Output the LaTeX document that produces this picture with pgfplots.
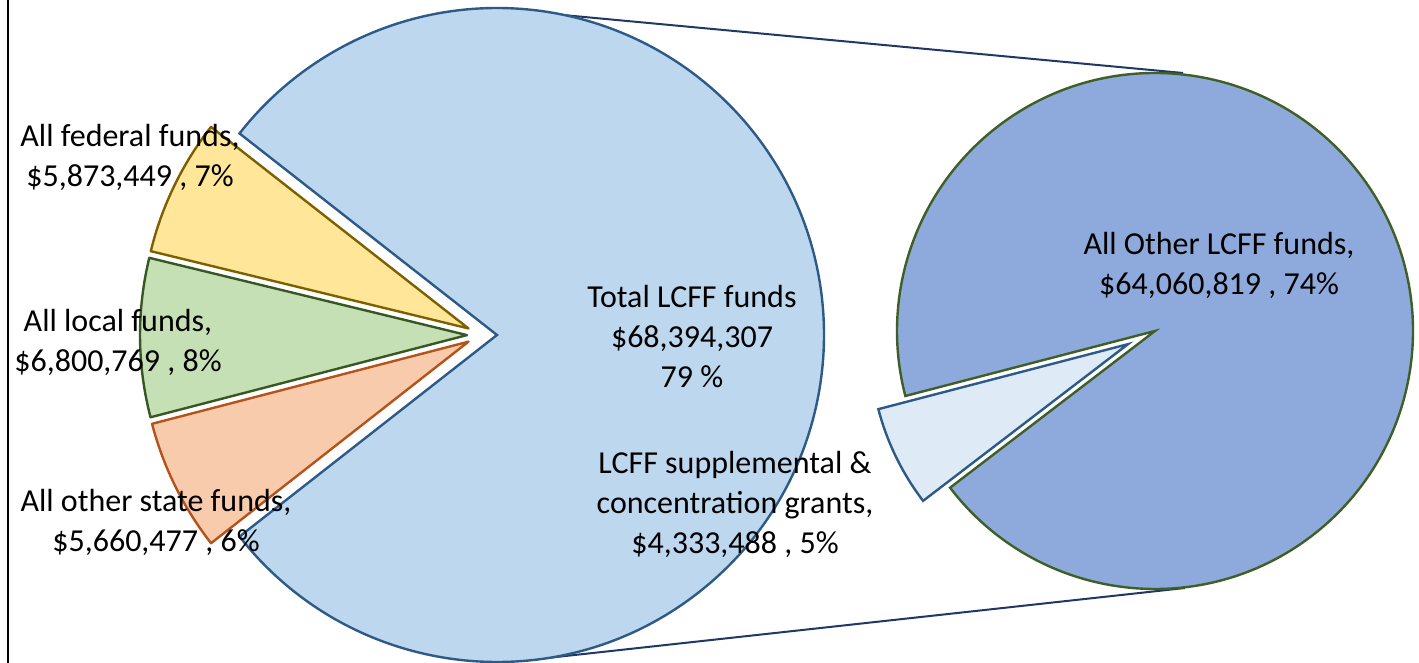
\documentclass[border=0pt]{standalone}
\usepackage{pgfplots}
\pgfplotsset{compat=1.18}
\usepackage{pgfplotstable}
\usepackage{fontspec}
\setmainfont{Carlito}

\definecolor{bigfill}{RGB}{189,215,238}
\definecolor{bigedge}{RGB}{46,90,136}
\definecolor{fedfill}{RGB}{255,230,153}
\definecolor{fededge}{RGB}{127,96,0}
\definecolor{locfill}{RGB}{197,224,180}
\definecolor{locedge}{RGB}{56,87,35}
\definecolor{stafill}{RGB}{248,203,173}
\definecolor{staedge}{RGB}{180,84,26}
\definecolor{secfill}{RGB}{142,169,219}
\definecolor{secedge}{RGB}{63,95,39}
\definecolor{supfill}{RGB}{222,235,247}
\definecolor{conn}{RGB}{31,56,100}

% first pie
\pgfplotstableread{
name value
federal 5873449
local 6800769
state 5660477
lcff 68394307
}\firstpie
% second pie (split of LCFF)
\pgfplotstableread{
name value
other 64060819
supp 4333488
}\secondpie

\pgfplotstablegetelem{0}{value}\of\firstpie\edef\vF{\pgfplotsretval}
\pgfplotstablegetelem{1}{value}\of\firstpie\edef\vL{\pgfplotsretval}
\pgfplotstablegetelem{2}{value}\of\firstpie\edef\vS{\pgfplotsretval}
\pgfplotstablegetelem{3}{value}\of\firstpie\edef\vC{\pgfplotsretval}
\pgfplotstablegetelem{0}{value}\of\secondpie\edef\vO{\pgfplotsretval}
\pgfplotstablegetelem{1}{value}\of\secondpie\edef\vP{\pgfplotsretval}

\edef\vT{\fpeval{\vF+\vL+\vS+\vC}}
\edef\aC{\fpeval{360*\vC/\vT}}
\edef\cA{\fpeval{-\aC/2}}
\edef\cB{\fpeval{\aC/2}}
\edef\fA{\cB}
\edef\fB{\fpeval{\fA+360*\vF/\vT}}
\edef\lA{\fB}
\edef\lB{\fpeval{\lA+360*\vL/\vT}}
\edef\sA{\lB}
\edef\sB{\fpeval{\sA+360*\vS/\vT}}

% main pie centre (axis units = px), radius, explosion
\def\mx{482}\def\my{328}\def\mR{163.5pt}\def\mex{15}
\edef\cX{\fpeval{\mx+\mex}}\edef\cY{\my}
\edef\fX{\fpeval{\mx+\mex*cosd((\fA+\fB)/2)}}\edef\fY{\fpeval{\my+\mex*sind((\fA+\fB)/2)}}
\edef\lX{\fpeval{\mx+\mex*cosd((\lA+\lB)/2)}}\edef\lY{\fpeval{\my+\mex*sind((\lA+\lB)/2)}}
\edef\sX{\fpeval{\mx+\mex*cosd((\sA+\sB)/2)}}\edef\sY{\fpeval{\my+\mex*sind((\sA+\sB)/2)}}

% second pie
\def\qx{1155}\def\qy{332}\def\qR{129pt}\def\qex{30}
\edef\aP{\fpeval{360*\vP/(\vO+\vP)}}
\edef\pA{\fpeval{206-\aP/2}}
\edef\pB{\fpeval{206+\aP/2}}
\edef\oA{\pB}
\edef\oB{\fpeval{\pA+360}}
\edef\pX{\fpeval{\qx+\qex*cosd(206)}}\edef\pY{\fpeval{\qy+\qex*sind(206)}}

\begin{document}
\begin{tikzpicture}
\begin{axis}[x=0.5pt,y=0.5pt,xmin=0,xmax=1419,ymin=0,ymax=663,
  hide axis,clip=false,scale only axis]
% left frame line
\draw[black,line width=1pt] (axis cs:8,0) -- (axis cs:8,663);
% connector lines
\draw[conn,line width=1pt] (axis cs:563,648) -- (axis cs:1183,590);
\draw[conn,line width=1pt] (axis cs:520,2) -- (axis cs:1185,75);
% main pie
\filldraw[fill=bigfill,draw=bigedge,line width=1.2pt,line join=miter]
  (axis cs:\cX,\cY) -- ++(\cA:\mR) arc[start angle=\cA,end angle=\cB,radius=\mR] -- cycle;
\filldraw[fill=fedfill,draw=fededge,line width=1.2pt,line join=round]
  (axis cs:\fX,\fY) -- ++(\fA:\mR) arc[start angle=\fA,end angle=\fB,radius=\mR] -- cycle;
\filldraw[fill=locfill,draw=locedge,line width=1.2pt,line join=round]
  (axis cs:\lX,\lY) -- ++(\lA:\mR) arc[start angle=\lA,end angle=\lB,radius=\mR] -- cycle;
\filldraw[fill=stafill,draw=staedge,line width=1.2pt,line join=round]
  (axis cs:\sX,\sY) -- ++(\sA:\mR) arc[start angle=\sA,end angle=\sB,radius=\mR] -- cycle;
% second pie
\filldraw[fill=secfill,draw=secedge,line width=1.2pt,line join=miter]
  (axis cs:\qx,\qy) -- ++(\oA:\qR) arc[start angle=\oA,end angle=\oB,radius=\qR] -- cycle;
\filldraw[fill=supfill,draw=bigedge,line width=1.2pt,line join=miter]
  (axis cs:\pX,\pY) -- ++(\pA:\qR) arc[start angle=\pA,end angle=\pB,radius=\qR] -- cycle;
% labels
\tikzset{lab/.style={align=center,inner sep=0pt,text=black,font={\fontsize{16pt}{20pt}\selectfont}}}
\node[lab] at (axis cs:130,506) {All federal funds,\\\$5,873,449 , 7\%};
\node[lab] at (axis cs:118,321) {All local funds,\\\$6,800,769 , 8\%};
\node[lab] at (axis cs:156,141) {All other state funds,\\\$5,660,477 , 6\%};
\node[lab] at (axis cs:692,326) {Total LCFF funds\\\$68,394,307\\79 \%};
\node[lab] at (axis cs:735,159) {LCFF supplemental \&\\concentration grants,\\\$4,333,488 , 5\%};
\node[lab] at (axis cs:1219,398) {All Other LCFF funds,\\\$64,060,819 , 74\%};
\end{axis}
\pgfresetboundingbox
\useasboundingbox (current axis.south west) rectangle (current axis.north east);
\end{tikzpicture}
\end{document}
